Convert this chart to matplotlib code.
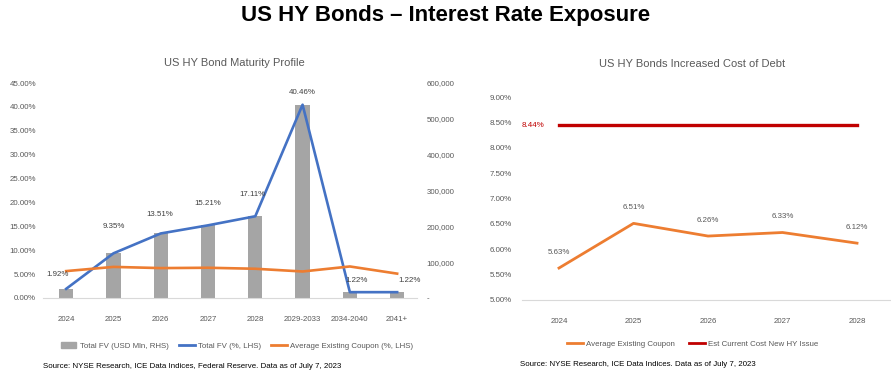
import numpy as np
import matplotlib.pyplot as plt
from matplotlib.patches import Patch
from matplotlib.lines import Line2D
from matplotlib.ticker import FuncFormatter, MultipleLocator

plt.rcParams['font.family'] = ['Liberation Sans Narrow', 'Liberation Sans', 'DejaVu Sans']

#----data---------------------------------------------------------------
BUCKETS = ['2024', '2025', '2026', '2027', '2028', '2029-2033', '2034-2040', '2041+']
FV_USD = [25600, 124700, 180100, 202800, 228100, 539500, 16300, 16300]
FV_PCT = [1.92, 9.35, 13.51, 15.21, 17.11, 40.46, 1.22, 1.22]
COUPON_ALL = [5.63, 6.51, 6.26, 6.33, 6.12, 5.55, 6.60, 5.10]

YEARS = ['2024', '2025', '2026', '2027', '2028']
COUPON = [5.63, 6.51, 6.26, 6.33, 6.12]
NEW_ISSUE = 8.44

#----style--------------------------------------------------------------
GRAY = '#A5A5A5'
BLUE = '#4472C4'
ORANGE = '#ED7D31'
RED = '#C00000'
TXT = '#595959'
FS = 5.7

fig = plt.figure(figsize=(8.91, 3.82), dpi=100)
fig.text(0.5, 1 - 16/382, 'US HY Bonds \u2013 Interest Rate Exposure', ha='center', va='center',
         fontsize=16, fontweight='bold', family=['Liberation Sans', 'DejaVu Sans'])

#----left chart---------------------------------------------------------
ax = fig.add_axes([43/891, 1 - 298/382, 374/891, 215/382])
ax2 = ax.twinx()
x = np.arange(len(BUCKETS))
ax2.bar(x, FV_USD, width=0.3, color=GRAY, zorder=1)
ax.plot(x, np.array(FV_PCT)/100, color=BLUE, lw=1.9, zorder=3)
ax.plot(x, np.array(COUPON_ALL)/100, color=ORANGE, lw=1.9, zorder=3)
ax.set_zorder(ax2.get_zorder() + 1)
ax.patch.set_visible(False)
ax.set_ylim(0, 0.45)
ax2.set_ylim(0, 600000)
ax.set_xlim(-0.49, 7.42)
ax.yaxis.set_major_locator(MultipleLocator(0.05))
ax.yaxis.set_major_formatter(FuncFormatter(lambda v, p: f'{v*100:.2f}%'))
ax2.yaxis.set_major_locator(MultipleLocator(100000))
ax2.yaxis.set_major_formatter(FuncFormatter(lambda v, p: '-' if v == 0 else f'{v:,.0f}'))
ax.set_xticks(x)
ax.set_xticklabels(BUCKETS)
for a in (ax, ax2):
    for s in a.spines.values():
        s.set_visible(False)
    a.tick_params(length=0, labelsize=FS, labelcolor=TXT)
ax.spines['bottom'].set_visible(True)
ax.spines['bottom'].set_color('#D9D9D9')
ax.tick_params(axis='y', pad=5)
ax.tick_params(axis='x', pad=13)
ax2.tick_params(axis='y', pad=7)
lab_off = [(-6, 8), (0, 17), (-1, 11), (0, 13), (-2, 13), (0, 6), (5, 6), (9, 6)]
for i, v in enumerate(FV_PCT):
    ax.annotate(f'{v:.2f}%', (x[i], v/100), xytext=lab_off[i], textcoords='offset points',
                ha='center', va='bottom', fontsize=FS, color='#404040')
fig.text(234/891, 1 - 63/382, 'US HY Bond Maturity Profile', ha='center', va='center',
         fontsize=8, color=TXT)
fig.legend([Patch(color=GRAY), Line2D([], [], color=BLUE, lw=2), Line2D([], [], color=ORANGE, lw=2)],
           ['Total FV (USD Mln, RHS)', 'Total FV (%, LHS)', 'Average Existing Coupon (%, LHS)'],
           loc='center', bbox_to_anchor=(237/891, 1 - 346/382), ncol=3, frameon=False,
           fontsize=FS, handlelength=2.0, handletextpad=0.4, columnspacing=1.3, labelcolor=TXT)
fig.text(43/891, 1 - 366/382, 'Source: NYSE Research, ICE Data Indices, Federal Reserve. Data as of July 7, 2023',
         fontsize=FS, va='center', color='black')

#----right chart--------------------------------------------------------
bx = fig.add_axes([521.75/891, 1 - 300/382, 368.8/891, 203/382])
xr = np.arange(len(YEARS))
bx.plot(xr, COUPON, color=ORANGE, lw=2.0)
bx.plot(xr, [NEW_ISSUE]*len(YEARS), color=RED, lw=2.4)
bx.set_ylim(5, 9)
bx.set_xlim(-0.5, 4.45)
bx.yaxis.set_major_locator(MultipleLocator(0.5))
bx.yaxis.set_major_formatter(FuncFormatter(lambda v, p: f'{v:.2f}%'))
bx.set_xticks(xr)
bx.set_xticklabels(YEARS)
for s in bx.spines.values():
    s.set_visible(False)
bx.spines['bottom'].set_visible(True)
bx.spines['bottom'].set_color('#D9D9D9')
bx.tick_params(length=0, labelsize=FS, labelcolor=TXT)
bx.tick_params(axis='y', pad=7)
bx.tick_params(axis='x', pad=13)
for i, v in enumerate(COUPON):
    bx.annotate(f'{v:.2f}%', (xr[i], v), xytext=(0, 9), textcoords='offset points',
                ha='center', va='bottom', fontsize=FS, color=TXT)
bx.annotate(f'{NEW_ISSUE:.2f}%', (xr[0], NEW_ISSUE), xytext=(-19, 0), textcoords='offset points',
            ha='center', va='center', fontsize=FS, color=RED)
fig.text(692/891, 1 - 64/382, 'US HY Bonds Increased Cost of Debt', ha='center', va='center',
         fontsize=8, color=TXT)
fig.legend([Line2D([], [], color=ORANGE, lw=2), Line2D([], [], color=RED, lw=2)],
           ['Average Existing Coupon', 'Est Current Cost New HY Issue'],
           loc='center', bbox_to_anchor=(693/891, 1 - 344/382), ncol=2, frameon=False,
           fontsize=FS, handlelength=2.0, handletextpad=0.4, columnspacing=1.8, labelcolor=TXT)
fig.text(520/891, 1 - 365/382, 'Source: NYSE Research, ICE Data Indices. Data as of July 7, 2023',
         fontsize=FS, va='center', color='black')

fig.savefig('out.png', dpi=100)
